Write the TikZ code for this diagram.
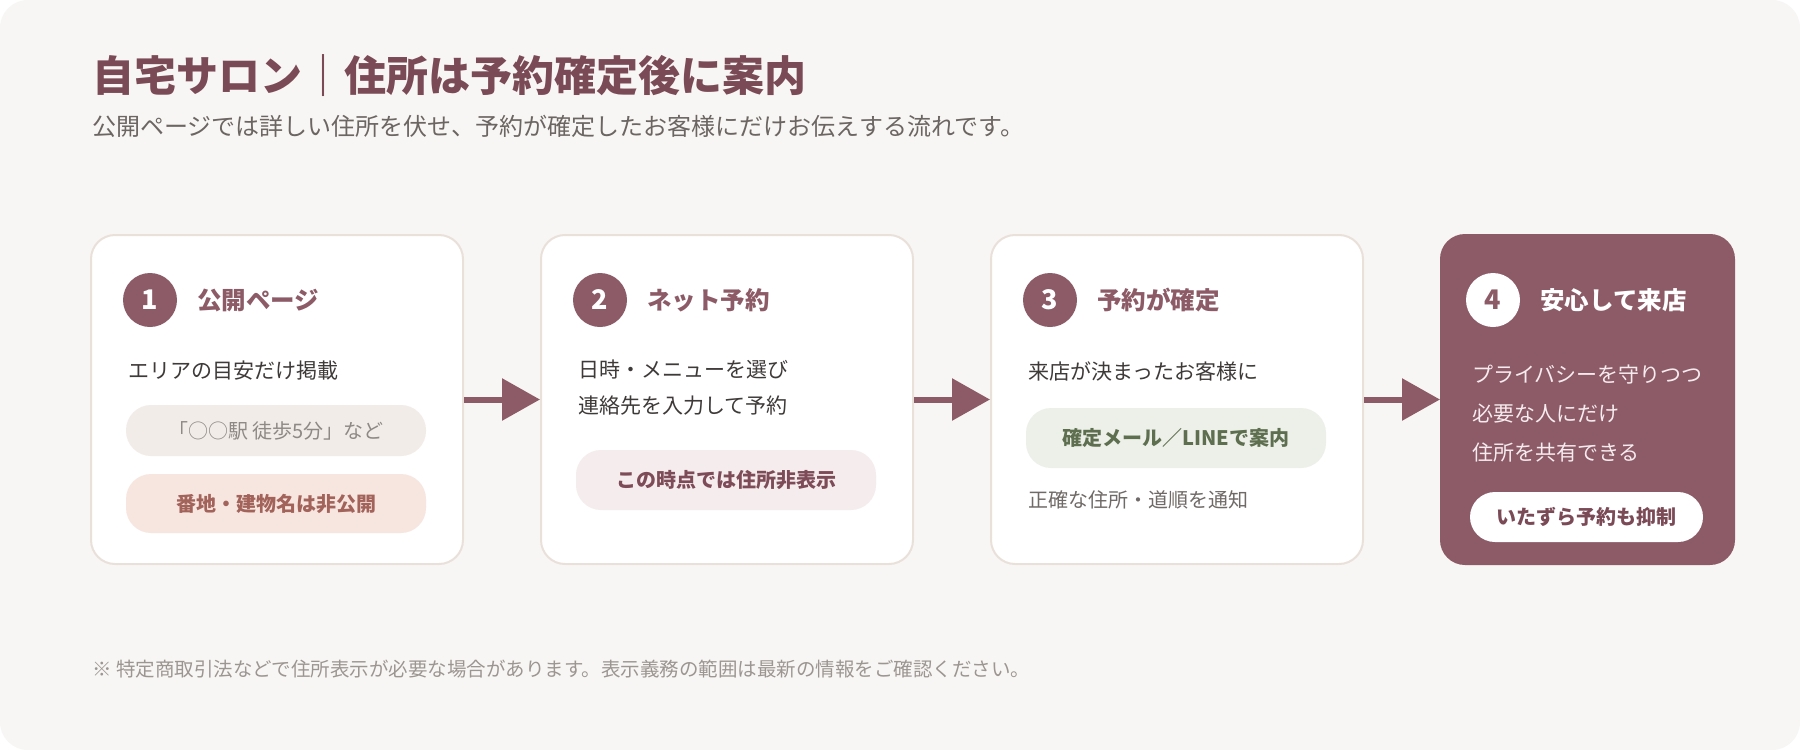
\documentclass[tikz,border=0pt]{standalone}
\usepackage{fontspec}
\setmainfont{Noto Sans CJK JP}
\usetikzlibrary{arrows.meta,positioning}

\definecolor{bgc}{HTML}{F8F6F4}
\definecolor{rim}{HTML}{E9E0DA}
\definecolor{plum}{HTML}{8C5B67}
\definecolor{titlec}{HTML}{7A4A57}
\definecolor{subc}{HTML}{6B6563}
\definecolor{inkc}{HTML}{3E3A39}
\definecolor{greyc}{HTML}{6F6967}
\definecolor{notec}{HTML}{9C9692}
\definecolor{sandbg}{HTML}{F1ECE8}
\definecolor{sandfg}{HTML}{8F8986}
\definecolor{peachbg}{HTML}{F7E6DF}
\definecolor{peachfg}{HTML}{A2635B}
\definecolor{rosebg}{HTML}{F5ECEE}
\definecolor{rosefg}{HTML}{7E4B58}
\definecolor{sagebg}{HTML}{EDF0E9}
\definecolor{sagefg}{HTML}{5E6F50}
\definecolor{softw}{HTML}{F6ECEF}

\begin{document}
\begin{tikzpicture}[
  x=1pt,y=-1pt,
  node distance=20pt,
  card/.style={draw=rim,line width=2pt,fill=white,rounded corners=24pt,
    minimum width=372pt,minimum height=329pt,anchor=north west,inner sep=0pt},
  lastcard/.style={card,draw=plum,fill=plum,minimum width=293pt},
  num/.style={circle,fill=plum,text=white,minimum size=54pt,inner sep=0pt,
    font=\fontsize{27}{30}\selectfont\bfseries},
  head/.style={anchor=west,inner sep=0pt,text=plum,font=\fontsize{24.5}{28}\selectfont\bfseries},
  body/.style={anchor=west,inner sep=0pt,text=inkc,align=left,font=\fontsize{21}{36}\selectfont},
  pill/.style={rounded corners=25pt,minimum width=300pt,minimum height=60pt,inner sep=0pt,
    font=\fontsize{20}{24}\selectfont\bfseries},
  arr/.style={-{Triangle[length=38pt,width=41pt]},line width=6pt,draw=plum}
]
\useasboundingbox (0,0) rectangle (1800,750);
\fill[white] (0,0) rectangle (1800,750);
\fill[bgc,rounded corners=28pt] (0,0) rectangle (1800,750);

% title block
\node[anchor=west,inner sep=0pt,text=titlec,font=\fontsize{42}{48}\selectfont\bfseries] (title) at (92,76)
  {自宅サロン｜住所は予約確定後に案内};
\node[anchor=west,inner sep=0pt,text=subc,font=\fontsize{24}{28}\selectfont] (sub) at (92,126)
  {公開ページでは詳しい住所を伏せ、予約が確定したお客様にだけお伝えする流れです。};

% cards
\node[card] (c1) at (90,234) {};
\node[card] (c2) at (540,234) {};
\node[card] (c3) at (990,234) {};
\node[lastcard] (c4) at (1440,234) {};

% step 1
\node[num] (n1) at ([shift={(60,66)}]c1.north west) {1};
\node[head,right=of n1] (h1) {公開ページ};
\node[body] (b1) at ([shift={(38,137)}]c1.north west) {エリアの目安だけ掲載};
\node[pill,fill=sandbg,text=sandfg,minimum height=51pt,font=\fontsize{20}{24}\selectfont] (p1a)
  at ([shift={(186,196.5)}]c1.north west) {「○○駅 徒歩5分」など};
\node[pill,fill=peachbg,text=peachfg,minimum height=59pt] (p1b)
  at ([shift={(186,269.5)}]c1.north west) {番地・建物名は非公開};

% step 2
\node[num] (n2) at ([shift={(60,66)}]c2.north west) {2};
\node[head,right=of n2] (h2) {ネット予約};
\node[body] (b2) at ([shift={(38,154)}]c2.north west) {日時・メニューを選び\\連絡先を入力して予約};
\node[pill,fill=rosebg,text=rosefg] (p2)
  at ([shift={(186,246)}]c2.north west) {この時点では住所非表示};

% step 3
\node[num] (n3) at ([shift={(60,66)}]c3.north west) {3};
\node[head,right=of n3] (h3) {予約が確定};
\node[body] (b3) at ([shift={(38,137)}]c3.north west) {来店が決まったお客様に};
\node[pill,fill=sagebg,text=sagefg] (p3)
  at ([shift={(186,204)}]c3.north west) {確定メール／LINEで案内};
\node[body,text=greyc,font=\fontsize{20}{24}\selectfont] (b3b)
  at ([shift={(38,266)}]c3.north west) {正確な住所・道順を通知};

% step 4
\node[num,fill=white,text=plum] (n4) at ([shift={(53,66)}]c4.north west) {4};
\node[head,right=of n4,text=white] (h4) {安心して来店};
\node[body,text=softw,font=\fontsize{21}{39}\selectfont] (b4)
  at ([shift={(32,180)}]c4.north west) {プライバシーを守りつつ\\必要な人にだけ\\住所を共有できる};
\node[pill,fill=white,text=titlec,minimum width=233pt,minimum height=50pt] (p4)
  at ([shift={(146.5,283)}]c4.north west) {いたずら予約も抑制};

% flow
\draw[arr] (c1.east) -- (c2.west);
\draw[arr] (c2.east) -- (c3.west);
\draw[arr] (c3.east) -- (c4.west);

% footnote
\node[anchor=west,inner sep=0pt,text=notec,font=\fontsize{19.5}{24}\selectfont] (note) at (92,669)
  {※ 特定商取引法などで住所表示が必要な場合があります。表示義務の範囲は最新の情報をご確認ください。};
\end{tikzpicture}
\end{document}
